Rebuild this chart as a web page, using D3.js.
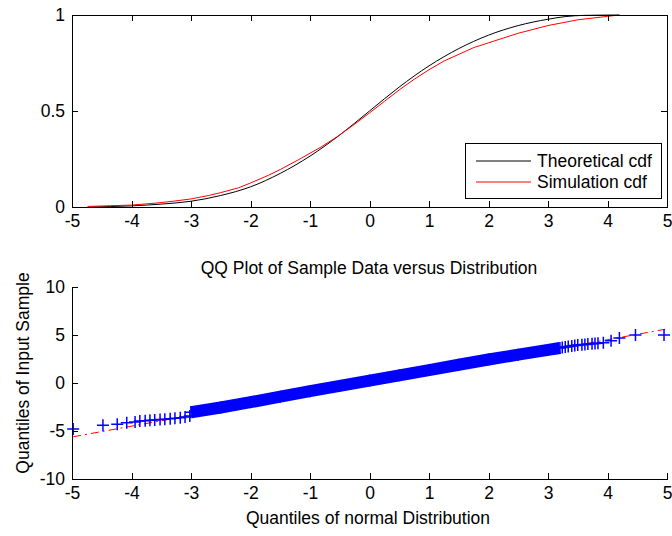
<!DOCTYPE html>
<html>
<head>
<meta charset="utf-8">
<script src="https://cdn.jsdelivr.net/npm/d3@7"></script>
<style>
  body { margin: 0; background: #fff; }
  text { font-family: "Liberation Sans", Arial, sans-serif; fill: #000; }
</style>
</head>
<body>
<svg id="chart" width="672" height="536"></svg>
<script>
// cdf curves
var theoX = [-4.7, -4.0, -3.5, -3.0, -2.5, -2.0, -1.5, -1.0, -0.5, 0.0, 0.5, 1.0, 1.5, 2.0, 2.5, 3.0, 3.3, 3.6, 4.2];
var theoY = [0.0, 0.006, 0.015, 0.03, 0.06, 0.105, 0.175, 0.265, 0.375, 0.5, 0.625, 0.735, 0.825, 0.895, 0.945, 0.978, 0.992, 0.998, 1.0];

var simX = [-4.74, -4.0, -3.6, -3.3, -3.0, -2.7, -2.5, -2.2, -2.0, -1.7, -1.5, -1.2, -1.0, -0.8, -0.55, -0.3, 0.0, 0.25, 0.5, 0.75, 1.0, 1.25, 1.5, 1.75, 2.0, 2.25, 2.5, 2.75, 3.0, 3.5, 4.0, 4.2];
var simY = [0.003, 0.01, 0.02, 0.03, 0.042, 0.06, 0.075, 0.1, 0.125, 0.165, 0.195, 0.245, 0.28, 0.315, 0.365, 0.42, 0.49, 0.55, 0.61, 0.665, 0.715, 0.76, 0.795, 0.83, 0.855, 0.88, 0.905, 0.925, 0.945, 0.975, 0.993, 1.0];

var cdfXTicks = [-5, -4, -3, -2, -1, 0, 1, 2, 3, 4, 5];
var cdfYTicks = [0, 0.5, 1];
var legendLabels = ["Theoretical cdf", "Simulation cdf"];

// qq plot: dense middle band + sparse tail markers
var bandX = [-3.0, -2.5, -2.0, -1.5, -1.0, -0.5, 0.0, 0.5, 1.0, 1.5, 2.0, 2.5, 3.0, 3.2];
var bandY = [-3.05, -2.55, -2.0, -1.42, -0.85, -0.3, 0.25, 0.8, 1.35, 1.9, 2.45, 2.95, 3.45, 3.65];

var tailX = [-4.98, -4.48, -4.24, -4.08, -3.94, -3.86, -3.77, -3.69, -3.61, -3.52, -3.44, -3.35, -3.27, -3.18, -3.1, -3.02,
             3.24, 3.29, 3.34, 3.4, 3.45, 3.5, 3.57, 3.62, 3.67, 3.74, 3.79, 3.84, 3.93, 4.06, 4.2, 4.47, 4.95];
var tailY = [-4.8, -4.4, -4.3, -4.15, -4.05, -3.95, -3.92, -3.88, -3.85, -3.8, -3.77, -3.72, -3.68, -3.62, -3.55, -3.45,
             3.7, 3.75, 3.8, 3.85, 3.9, 3.95, 3.98, 4.02, 4.05, 4.1, 4.12, 4.15, 4.2, 4.4, 4.7, 5.0, 5.0];

var refLineX = [-4.98, 4.97];
var refLineY = [-5.6, 5.6];

var qqXTicks = [-5, -4, -3, -2, -1, 0, 1, 2, 3, 4, 5];
var qqYTicks = [-10, -5, 0, 5, 10];

var svg = d3.select("#chart");
var left = 72, right = 667;
var fontSize = 17.5;

// ---------- top plot ----------
var x1 = d3.scaleLinear().domain([-5, 5]).range([left, right]);
var y1 = d3.scaleLinear().domain([0, 1]).range([207, 15]);

var cdfPlot = svg.append("g");

cdfPlot.append("rect")
    .attr("x", left).attr("y", 15)
    .attr("width", right - left).attr("height", 192)
    .attr("fill", "#fff");

var line1 = d3.line()
    .x(function(d){ return x1(d[0]); })
    .y(function(d){ return y1(d[1]); })
    .curve(d3.curveMonotoneX);

cdfPlot.append("path")
    .datum(d3.zip(theoX, theoY))
    .attr("d", line1)
    .attr("fill", "none")
    .attr("stroke", "#000")
    .attr("stroke-width", 1);

cdfPlot.append("path")
    .datum(d3.zip(simX, simY))
    .attr("d", d3.line().x(function(d){ return x1(d[0]); }).y(function(d){ return y1(d[1]); }))
    .attr("fill", "none")
    .attr("stroke", "#ff0000")
    .attr("stroke-width", 1);

function styleAxis(g){
    g.selectAll("path, line").attr("stroke", "#000").attr("shape-rendering", "crispEdges");
    g.selectAll("text").attr("font-size", fontSize).attr("font-family", "Liberation Sans, Arial, sans-serif");
}
var plain = function(d){ return String(d); }; // hyphen minus, not U+2212

cdfPlot.append("g").attr("transform", "translate(0,207)")
    .call(d3.axisBottom(x1).tickValues(cdfXTicks).tickSizeInner(-6).tickSizeOuter(0).tickPadding(8).tickFormat(plain))
    .call(styleAxis);
cdfPlot.append("g").attr("transform", "translate(0,15)")
    .call(d3.axisTop(x1).tickValues(cdfXTicks).tickSizeInner(-6).tickSizeOuter(0).tickFormat(""))
    .call(styleAxis);
cdfPlot.append("g").attr("transform", "translate(" + left + ",0)")
    .call(d3.axisLeft(y1).tickValues(cdfYTicks).tickSizeInner(-6).tickSizeOuter(0).tickPadding(7).tickFormat(plain))
    .call(styleAxis);
cdfPlot.append("g").attr("transform", "translate(" + right + ",0)")
    .call(d3.axisRight(y1).tickValues(cdfYTicks).tickSizeInner(-6).tickSizeOuter(0).tickFormat(""))
    .call(styleAxis);

// legend
var legend = cdfPlot.append("g").attr("transform", "translate(465,143)");
legend.append("rect")
    .attr("width", 196).attr("height", 55)
    .attr("fill", "#fff").attr("stroke", "#000")
    .attr("shape-rendering", "crispEdges");
var legendColors = ["#000", "#ff0000"];
legend.selectAll("g.item")
    .data(legendLabels)
    .enter()
    .append("g")
        .attr("class", "item")
        .attr("transform", function(d, i){ return "translate(0," + (18 + i * 21) + ")"; })
        .each(function(d, i){
            var g = d3.select(this);
            g.append("line").attr("x1", 11).attr("x2", 66)
                .attr("stroke", legendColors[i]).attr("stroke-width", 1);
            g.append("text").attr("x", 72).attr("dy", "0.35em")
                .attr("font-size", fontSize).text(d);
        });

// ---------- bottom plot ----------
var x2 = d3.scaleLinear().domain([-5, 5]).range([left, right]);
var y2 = d3.scaleLinear().domain([-10, 10]).range([479, 287]);

var qqPlot = svg.append("g");

qqPlot.append("text")
    .attr("x", 369).attr("y", 274)
    .attr("text-anchor", "middle").attr("font-size", fontSize)
    .text("QQ Plot of Sample Data versus Distribution");

// dashed reference line
qqPlot.append("path")
    .datum(d3.zip(refLineX, refLineY))
    .attr("d", d3.line().x(function(d){ return x2(d[0]); }).y(function(d){ return y2(d[1]); }))
    .attr("fill", "none")
    .attr("stroke", "#ff0000")
    .attr("stroke-width", 1)
    .attr("stroke-dasharray", "8,4,2,4");

// dense band = thousands of overlapping markers
qqPlot.append("path")
    .datum(d3.zip(bandX, bandY))
    .attr("d", d3.line().x(function(d){ return x2(d[0]); }).y(function(d){ return y2(d[1]); }))
    .attr("fill", "none")
    .attr("stroke", "#0000ff")
    .attr("stroke-width", 12);

var mk = 6;
qqPlot.selectAll("path.mk")
    .data(d3.zip(tailX, tailY).concat(d3.zip(bandX, bandY)))
    .enter()
    .append("path")
        .attr("class", "mk")
        .attr("d", "M" + (-mk) + ",0H" + mk + "M0," + (-mk) + "V" + mk)
        .attr("transform", function(d){ return "translate(" + x2(d[0]) + "," + y2(d[1]) + ")"; })
        .attr("fill", "none")
        .attr("stroke", "#0000ff")
        .attr("stroke-width", 1.5);

qqPlot.append("g").attr("transform", "translate(0,479)")
    .call(d3.axisBottom(x2).tickValues(qqXTicks).tickSizeInner(-6).tickSizeOuter(0).tickPadding(8).tickFormat(plain))
    .call(styleAxis);
qqPlot.append("g").attr("transform", "translate(" + left + ",0)")
    .call(d3.axisLeft(y2).tickValues(qqYTicks).tickSizeInner(-6).tickSizeOuter(0).tickPadding(7).tickFormat(plain))
    .call(styleAxis);

qqPlot.append("text")
    .attr("x", 368).attr("y", 524)
    .attr("text-anchor", "middle").attr("font-size", fontSize)
    .text("Quantiles of normal Distribution");

qqPlot.append("text")
    .attr("transform", "translate(29,373) rotate(-90)")
    .attr("text-anchor", "middle").attr("font-size", fontSize)
    .text("Quantiles of Input Sample");
</script>
</body>
</html>
